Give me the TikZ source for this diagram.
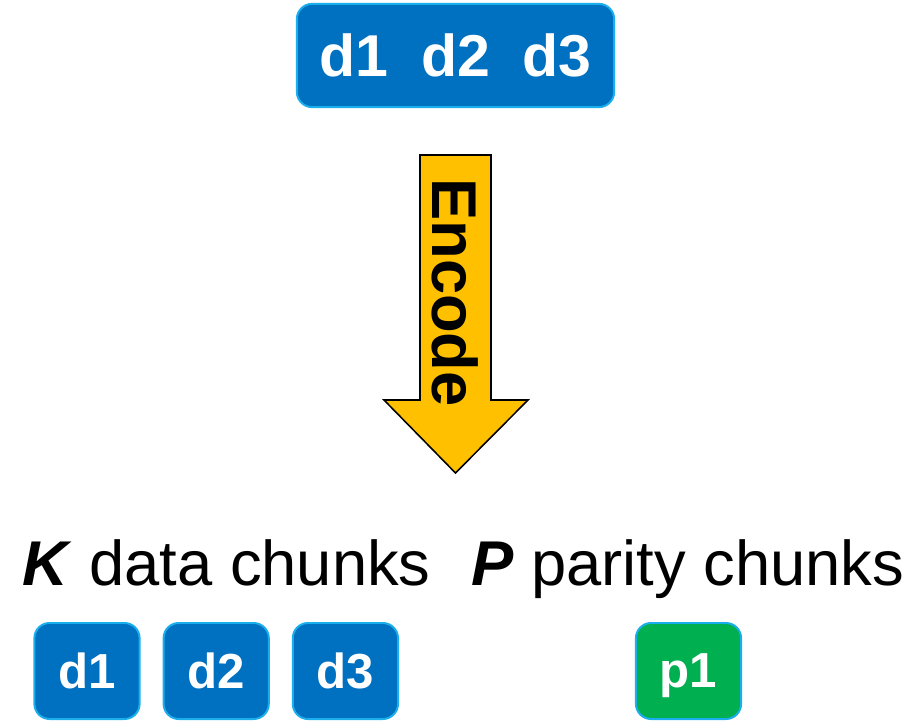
\documentclass[tikz,border=0pt]{standalone}
\usepackage{fontspec}
\setmainfont{Liberation Sans}
\usetikzlibrary{positioning}

\definecolor{chunkblue}{HTML}{0070C0}
\definecolor{chunkgreen}{HTML}{00B050}
\definecolor{chunkedge}{HTML}{1AAFEC}
\definecolor{encyellow}{HTML}{FFC000}

\tikzset{
chunk/.style={
  draw=chunkedge,line width=1.4pt,fill=chunkblue,rounded corners=0.38cm,
  text=white,font=\fontsize{35}{40}\selectfont\bfseries,inner sep=0pt,
  text depth=0pt,minimum width=2.63cm,minimum height=2.4cm},
parity/.style={chunk,fill=chunkgreen},
stripe/.style={chunk,font=\fontsize{42}{48}\selectfont\bfseries,
  minimum width=7.93cm,minimum height=2.58cm},
encarrow/.style={draw=black,line width=1.1pt,fill=encyellow,line join=miter},
chunklabel/.style={font=\fontsize{45}{50}\selectfont,inner sep=0pt,anchor=base west}}

\begin{document}
\begin{tikzpicture}[x=0.025cm,y=-0.025cm, node distance=0.55cm]
\useasboundingbox (0,0) rectangle (913,721);

% the data before encoding
\node[stripe] (data) at (455.5,55.5) {d1~~d2~~d3};

% encode arrow
\draw[encarrow] (420,155) -- (491,155) -- (491,400) -- (528,400)
   -- (455.5,473) -- (384,400) -- (420,400) -- cycle;
\node[font=\fontsize{45}{50}\selectfont\bfseries,rotate=-90] (encode) at (455.5,292.5) {Encode};

% the chunks after encoding
\node[chunklabel] (klabel) at (22,585) {\textbf{\textit{K}}\ data chunks};
\node[chunklabel] (plabel) at (471,585) {\textbf{\textit{P}}\ parity chunks};

\node[chunk] (d1) at (87,671) {d1};
\node[chunk, right=of d1] (d2) {d2};
\node[chunk, right=of d2] (d3) {d3};
\node[parity] (p1) at (688.5,671) {p1};

\end{tikzpicture}
\end{document}
